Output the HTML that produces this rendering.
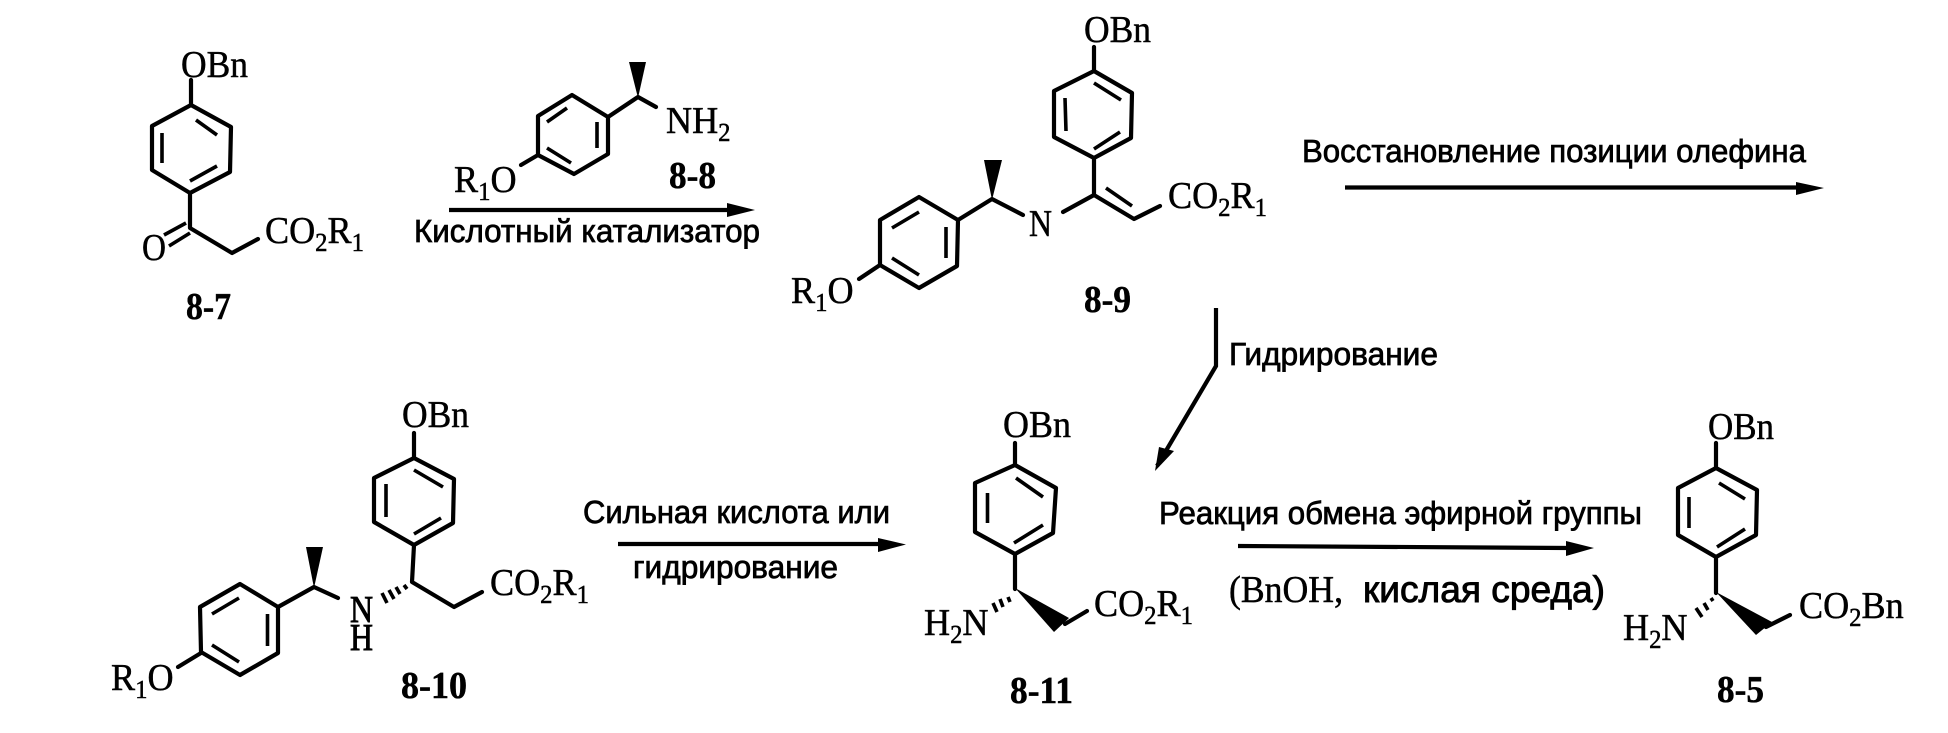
<!DOCTYPE html>
<html lang="ru">
<head>
<meta charset="utf-8">
<title>Схема синтеза</title>
<style>
html,body{margin:0;padding:0;background:#fff;width:1948px;height:733px;overflow:hidden}
svg{display:block}
.b{fill:none;stroke:#000;stroke-width:4.2;stroke-linecap:round;stroke-linejoin:round}
.i{fill:none;stroke:#000;stroke-width:3.6;stroke-linecap:butt}
.a{fill:none;stroke:#000;stroke-width:4.2}
.h{fill:none;stroke:#000;stroke-width:3.6}
text{fill:#000;text-rendering:geometricPrecision}
.s{font-family:"Liberation Serif",serif;font-size:38px;stroke:#000;stroke-width:.5px}
.s tspan.u{font-size:26px}
.l{font-family:"Liberation Serif",serif;font-size:38px;font-weight:bold;stroke:#000;stroke-width:.5px}
.r{font-family:"Liberation Sans",sans-serif;font-size:32px;stroke:#000;stroke-width:.75px}
</style>
</head>
<body>
<svg width="1948" height="733" viewBox="0 0 1948 733" xmlns="http://www.w3.org/2000/svg">
<rect width="1948" height="733" fill="#fff"/>

<!-- 8-7 -->
<path class="b" d="M191 80V105L231 127L230 172L190 193L152 170V126L191 105M190 193V228L232 253L258 239"/>
<path class="i" d="M196 120L217 135M162 133V163M190 233L169 246M186 223L164 235M190 181L217 166"/>
<text class="s" x="181" y="77" textLength="67" lengthAdjust="spacingAndGlyphs">OBn</text>
<text class="s" x="142" y="260" textLength="24" lengthAdjust="spacingAndGlyphs">O</text>
<text class="s" transform="translate(265 243) scale(.95 1)">CO<tspan class="u" dy="8">2</tspan><tspan dy="-8">R</tspan><tspan class="u" dy="8">1</tspan></text>
<text class="l" x="186" y="319" textLength="45" lengthAdjust="spacingAndGlyphs">8-7</text>

<!-- 8-8 -->
<path class="b" d="M572 95L608 117V154L574 174L538 155V116ZM608 117L638 97L656 107M538 155L521 165"/>
<path class="i" d="M547 122L567 108M597 122V148M547 148L571 163"/>
<polygon points="638,98 629,62 646,62" fill="#000"/>
<text class="s" transform="translate(666 133) scale(.95 1)">NH<tspan class="u" dy="8">2</tspan></text>
<text class="s" transform="translate(454 192) scale(.95 1)">R<tspan class="u" dy="8">1</tspan><tspan dy="-8">O</tspan></text>
<text class="l" x="669" y="188" textLength="47" lengthAdjust="spacingAndGlyphs">8-8</text>
<path class="a" d="M449 210H730"/>
<polygon points="727,203 755,210 727,217" fill="#000"/>
<text class="r" x="414" y="242" textLength="346" lengthAdjust="spacingAndGlyphs">Кислотный катализатор</text>

<!-- 8-9 -->
<path class="b" d="M1094 47V71L1132 93L1131 138L1094 158L1054 137V91L1094 71M1094 158V195L1134 219L1160 206M1094 195L1063 212"/>
<path class="i" d="M1094 83L1121 100M1065 98L1066 131M1094 149L1120 132M1106 188L1132 206"/>
<path class="b" d="M1023 215L992 199L958 220L919 197L880 220V265L919 288L957 266L958 220M880 265L859 279"/>
<path class="i" d="M892 228L919 212M946 227V258M892 258L919 275"/>
<polygon points="992,200 984,160 1002,160" fill="#000"/>
<text class="s" x="1084" y="42" textLength="67" lengthAdjust="spacingAndGlyphs">OBn</text>
<text class="s" x="1029" y="236" textLength="23" lengthAdjust="spacingAndGlyphs">N</text>
<text class="s" transform="translate(1168 208) scale(.95 1)">CO<tspan class="u" dy="8">2</tspan><tspan dy="-8">R</tspan><tspan class="u" dy="8">1</tspan></text>
<text class="s" transform="translate(791 303) scale(.95 1)">R<tspan class="u" dy="8">1</tspan><tspan dy="-8">O</tspan></text>
<text class="l" x="1084" y="312" textLength="47" lengthAdjust="spacingAndGlyphs">8-9</text>

<!-- top right arrow -->
<text class="r" x="1302" y="162" textLength="504" lengthAdjust="spacingAndGlyphs">Восстановление позиции олефина</text>
<path class="a" d="M1345 187.500H1800"/>
<polygon points="1796,182 1824,188 1796,195" fill="#000"/>

<!-- hydrogenation arrow -->
<path class="a" d="M1216 308V366L1157 466"/>
<polygon points="1155,471 1159,447 1174,451" fill="#000"/>
<text class="r" x="1229" y="365" textLength="209" lengthAdjust="spacingAndGlyphs">Гидрирование</text>

<!-- 8-10 -->
<path class="b" d="M414 433V458L454 479L453 523L414 545L374 522V478L414 458M414 545L412 582L454 607L482 592"/>
<path class="i" d="M414 470L443 487M386 484V517M414 534L441 518"/>
<path class="h" d="M382 593L387 603M389 590L394 599M396 587L400 594M404 585L407 589"/>
<path class="b" d="M338 598L314 587L278 607L240 584L200 607L201 652L240 675L278 653V607M201 653L178 667"/>
<path class="i" d="M212 614L239 598M267.500 614V646M212 645L239 662"/>
<polygon points="314,588 306,547 323,547" fill="#000"/>
<text class="s" x="402" y="427" textLength="67" lengthAdjust="spacingAndGlyphs">OBn</text>
<text class="s" x="350" y="622" textLength="23" lengthAdjust="spacingAndGlyphs" style="stroke-width:.9px">N</text>
<text class="s" x="350" y="650" textLength="23" lengthAdjust="spacingAndGlyphs" style="stroke-width:.9px">H</text>
<text class="s" transform="translate(490 595) scale(.95 1)">CO<tspan class="u" dy="8">2</tspan><tspan dy="-8">R</tspan><tspan class="u" dy="8">1</tspan></text>
<text class="s" transform="translate(111 690) scale(.95 1)">R<tspan class="u" dy="8">1</tspan><tspan dy="-8">O</tspan></text>
<text class="l" x="401" y="698" textLength="66" lengthAdjust="spacingAndGlyphs">8-10</text>

<!-- arrow 8-10 to 8-11 -->
<text class="r" x="583" y="523" textLength="307" lengthAdjust="spacingAndGlyphs">Сильная кислота или</text>
<path class="a" d="M618 544H882"/>
<polygon points="878,538 906,544.500 878,552" fill="#000"/>
<text class="r" x="633" y="578" textLength="205" lengthAdjust="spacingAndGlyphs">гидрирование</text>

<!-- 8-11 -->
<path class="b" d="M1015 443V465L1056 488L1053 533L1015 554L975 532V483L1015 465M1015 554V589M1065 624L1087 611"/>
<path class="i" d="M1016 478L1043 497M987.500 493V523M1014 543L1043 525"/>
<polygon points="1015,588 1054,632 1069,618" fill="#000"/>
<path class="h" d="M993 603L997 612M1000 599L1003 607M1008 597L1010 602"/>
<text class="s" x="1003" y="437" textLength="68" lengthAdjust="spacingAndGlyphs">OBn</text>
<text class="s" transform="translate(924 635) scale(.95 1)">H<tspan class="u" dy="8">2</tspan><tspan dy="-8">N</tspan></text>
<text class="s" transform="translate(1094 616) scale(.95 1)">CO<tspan class="u" dy="8">2</tspan><tspan dy="-8">R</tspan><tspan class="u" dy="8">1</tspan></text>
<text class="l" x="1010" y="703" textLength="63" lengthAdjust="spacingAndGlyphs">8-11</text>

<!-- arrow 8-11 to 8-5 -->
<text class="r" x="1159" y="524" textLength="483" lengthAdjust="spacingAndGlyphs">Реакция обмена эфирной группы</text>
<path class="a" d="M1238 546L1570 548"/>
<polygon points="1566,541 1594,548 1566,556" fill="#000"/>
<text class="s" x="1229" y="602" textLength="114" lengthAdjust="spacingAndGlyphs">(BnOH,</text>
<text x="1363" y="602" textLength="242" lengthAdjust="spacingAndGlyphs" style="font-family:'Liberation Sans',sans-serif;font-size:37px;stroke:#000;stroke-width:.9px">кислая среда)</text>

<!-- 8-5 -->
<path class="b" d="M1716 443V468L1757 490L1756 535L1716 557L1678 535V488L1716 468M1716 557V593M1766 627L1790 615"/>
<path class="i" d="M1719 483L1745 499M1689 497V528M1717 547L1745 529"/>
<polygon points="1716,592 1756,635 1772,622" fill="#000"/>
<path class="h" d="M1696 608L1702 617M1704 603L1708 610M1711 598L1713 601"/>
<text class="s" x="1708" y="439" textLength="66" lengthAdjust="spacingAndGlyphs">OBn</text>
<text class="s" transform="translate(1623 640) scale(.95 1)">H<tspan class="u" dy="8">2</tspan><tspan dy="-8">N</tspan></text>
<text class="s" transform="translate(1799 618) scale(.95 1)">CO<tspan class="u" dy="8">2</tspan><tspan dy="-8">Bn</tspan></text>
<text class="l" x="1717" y="702" textLength="47" lengthAdjust="spacingAndGlyphs">8-5</text>
</svg>
</body>
</html>
